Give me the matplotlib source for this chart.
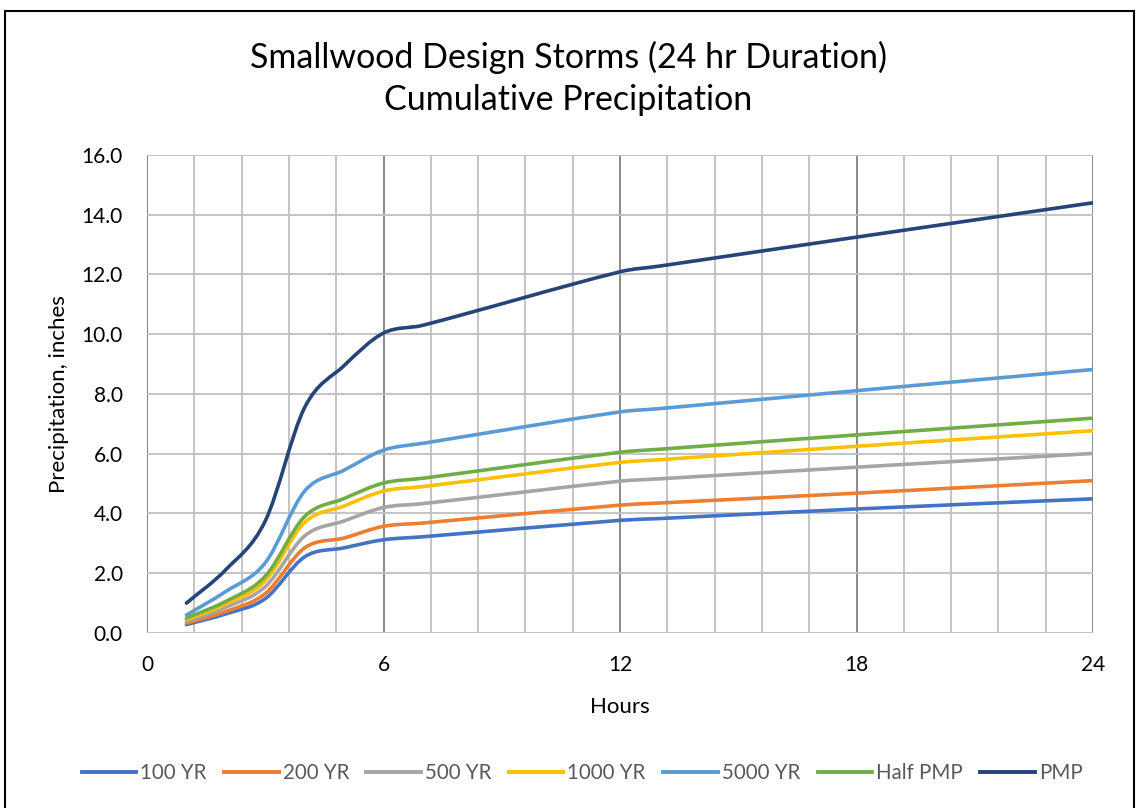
import numpy as np
import matplotlib
matplotlib.use('Agg')
import matplotlib.pyplot as plt
from matplotlib.path import Path
from matplotlib.patches import PathPatch, Rectangle
from matplotlib.lines import Line2D
from matplotlib.ticker import MultipleLocator

plt.rcParams['font.family'] = ['Lato', 'DejaVu Sans']

# Cumulative precipitation (inches) by hour for each design storm
hours = [1, 2, 3, 4, 5, 6, 7, 12, 13, 18, 24]
yr100 = [0.28, 0.64, 1.15, 2.55, 2.85, 3.12, 3.22, 3.77, 3.83, 4.15, 4.49]
yr200 = [0.33, 0.72, 1.32, 2.85, 3.18, 3.57, 3.68, 4.28, 4.35, 4.68, 5.10]
yr500 = [0.39, 0.86, 1.55, 3.25, 3.75, 4.20, 4.33, 5.08, 5.16, 5.55, 6.01]
yr1000 = [0.45, 0.97, 1.75, 3.70, 4.25, 4.75, 4.90, 5.71, 5.80, 6.25, 6.77]
yr5000 = [0.60, 1.39, 2.35, 4.75, 5.45, 6.12, 6.35, 7.40, 7.51, 8.11, 8.82]
half_pmp = [0.50, 1.06, 1.90, 3.90, 4.50, 5.02, 5.18, 6.05, 6.15, 6.63, 7.19]
pmp = [1.00, 2.12, 3.75, 7.55, 8.95, 10.04, 10.30, 12.09, 12.28, 13.25, 14.40]

labels = ['100 YR', '200 YR', '500 YR', '1000 YR', '5000 YR', 'Half PMP', 'PMP']
series = [yr100, yr200, yr500, yr1000, yr5000, half_pmp, pmp]
colors = ['#4472C4', '#ED7D31', '#A5A5A5', '#FFC000', '#5B9BD5', '#70AD47', '#264478']


def smooth_path(x, y):
    # smoothed line through the points: cubic Bezier segments with
    # Catmull-Rom slopes (works for uneven hour spacing)
    x = np.asarray(x, float)
    y = np.asarray(y, float)
    n = len(x)
    m = np.empty(n)
    m[0] = (y[1] - y[0]) / (x[1] - x[0])
    m[-1] = (y[-1] - y[-2]) / (x[-1] - x[-2])
    m[1:-1] = (y[2:] - y[:-2]) / (x[2:] - x[:-2])
    verts = [(x[0], y[0])]
    codes = [Path.MOVETO]
    for i in range(n - 1):
        h = (x[i + 1] - x[i]) / 3
        verts += [(x[i] + h, y[i] + m[i] * h),
                  (x[i + 1] - h, y[i + 1] - m[i + 1] * h),
                  (x[i + 1], y[i + 1])]
        codes += [Path.CURVE4] * 3
    return Path(verts, codes)


fig = plt.figure(figsize=(11.37, 8.08), dpi=100)
ax = fig.add_axes([0.1293, 0.2166, 0.9613 - 0.1293, 0.8082 - 0.2166])

ax.set_xlim(0, 24)
ax.set_ylim(0, 16)
ax.set_xticks([0, 6, 12, 18, 24])
ax.set_yticks(np.arange(0, 17, 2))
ax.set_yticklabels([f'{v:.1f}' for v in np.arange(0, 17, 2)])
ax.xaxis.set_minor_locator(MultipleLocator(1.2))

ax.grid(axis='y', which='major', color='#BFBFBF', lw=1.3)
ax.grid(axis='x', which='minor', color='#BFBFBF', lw=1.3)
ax.grid(axis='x', which='major', color='#808080', lw=1.3)
ax.set_axisbelow(True)
for s in ax.spines.values():
    s.set_visible(False)
ax.axvline(0, color='#BFBFBF', lw=1.3, zorder=0)
ax.tick_params(which='both', length=0, labelsize=15, colors='#000000')
ax.tick_params(axis='x', pad=15.5)
ax.tick_params(axis='y', pad=17.5)

handles = []
for vals, lab, c in zip(series, labels, colors):
    patch = PathPatch(smooth_path(hours, vals), fill=False, edgecolor=c,
                      lw=2.6, capstyle='round', joinstyle='round')
    ax.add_patch(patch)
    handles.append(Line2D([], [], color=c, lw=2.8, label=lab))

ax.set_xlabel('Hours', fontsize=16, labelpad=16)
ax.set_ylabel('Precipitation, inches', fontsize=16, labelpad=9)

fig.text(0.5, 0.903, 'Smallwood Design Storms (24 hr Duration)\nCumulative Precipitation',
         ha='center', va='center', fontsize=24.5, linespacing=1.38)

fig.legend(handles=handles, loc='center', bbox_to_anchor=(0.512, 0.043), ncol=7,
           frameon=False, fontsize=14.8, handlelength=2.65, handletextpad=0.2,
           columnspacing=0.85, labelcolor='#595959')

# outer chart border
fig.patches.append(Rectangle((0.004, -0.01), 0.993, 0.997, transform=fig.transFigure,
                             fill=False, edgecolor='black', lw=1.5))

fig.savefig('out.png', dpi=100)
